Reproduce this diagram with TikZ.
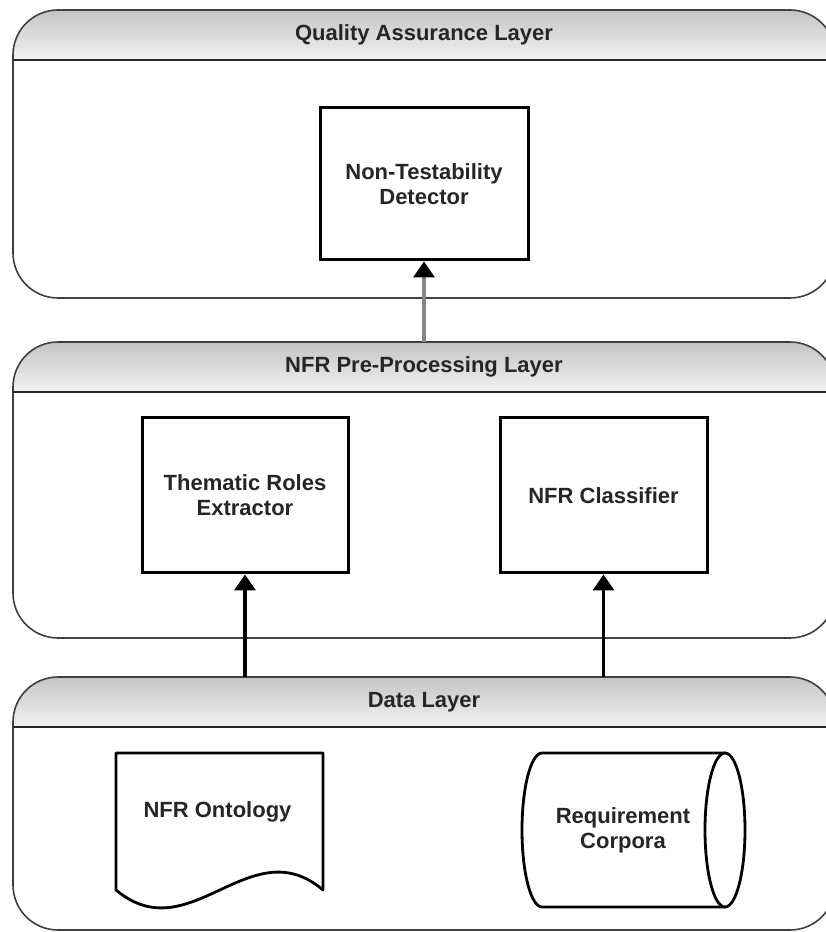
\documentclass[tikz,border=0pt]{standalone}
\usepackage{fontspec}
\setmainfont{Liberation Sans}
\usetikzlibrary{arrows.meta,backgrounds}
\newcommand\hdrfill[1]{%
  \foreach \i [evaluate=\i as \c using 46-0.72*\i] in {0,...,49} {
    \fill[gray!\c] ([yshift={-1pt*\i}]#1.north west) rectangle ([yshift={-1pt*\i-1.6pt}]#1.north east);
  }
  \fill[white] (#1.north west) -- ++(45pt,0) arc[start angle=90,end angle=180,radius=45pt] -- cycle;
  \fill[white] (#1.north east) -- ++(-45pt,0) arc[start angle=90,end angle=0,radius=45pt] -- cycle;
}
\tikzset{
  layer/.style={draw=black!75, line width=1.6pt, rounded corners=45pt, inner sep=0pt, outer sep=0pt},
  hline/.style={line width=2pt, draw=black!85},
  hdr/.style={font=\fontsize{22}{25}\selectfont\bfseries, text=black!85, inner sep=0pt},
  box/.style={draw=black, line width=3pt, align=center, font=\fontsize{22}{25}\selectfont\bfseries, text=black!85},
  lbl/.style={align=center, font=\fontsize{22}{25}\selectfont\bfseries, text=black!85, inner sep=0pt},
  shp/.style={draw=black, line width=2.8pt, line join=round},
  barrow/.style={draw=black, line width=3.6pt, -{Triangle[width=21pt,length=16pt]}},
  garrow/.style={draw=gray!95, line width=3.6pt, -{Triangle[width=21pt,length=16pt,color=black]}}
}
\begin{document}
\begin{tikzpicture}[x=1pt,y=1pt]
\useasboundingbox (0,0) rectangle (825,932);
% layers
\node[layer, minimum width=822pt, minimum height=288pt] (L1) at (424,778) {};
\node[layer, minimum width=822pt, minimum height=296pt] (L2) at (424,442) {};
\node[layer, minimum width=822pt, minimum height=253pt] (L3) at (424,128.5) {};
\begin{scope}[on background layer]
  \fill[white] (0,0) rectangle (825,932);
  \hdrfill{L1}
  \hdrfill{L2}
  \hdrfill{L3}
\end{scope}
\draw[hline] ([yshift=-50pt]L1.north west) -- ([yshift=-50pt]L1.north east);
\draw[hline] ([yshift=-50pt]L2.north west) -- ([yshift=-50pt]L2.north east);
\draw[hline] ([yshift=-50pt]L3.north west) -- ([yshift=-50pt]L3.north east);
\node[hdr] (L1t) at ([yshift=-25pt]L1.north) {Quality Assurance Layer};
\node[hdr] (L2t) at ([yshift=-25pt]L2.north) {NFR Pre-Processing Layer};
\node[hdr] (L3t) at ([yshift=-25pt]L3.north) {Data Layer};
% boxes
\node[box, minimum width=208pt, minimum height=152pt] (det) at (424,748) {Non-Testability\\Detector};
\node[box, minimum width=206pt, minimum height=155pt] (tre) at (245,436.5) {Thematic Roles\\Extractor};
\node[box, minimum width=207pt, minimum height=155pt] (nfrc) at (603.5,436.5) {NFR Classifier};
% document shape
\draw[shp] (116,179) -- (323,179) -- (323,42) .. controls (250,104) and (190,-20) .. (116,42) -- cycle;
\node[lbl] (onto) at (217.5,120) {NFR Ontology};
% cylinder
\draw[shp] (725,179) -- (542,179) arc[start angle=90, end angle=270, x radius=20, y radius=77] -- (725,25);
\draw[shp] (725,102) ellipse [x radius=20, y radius=77];
\node[lbl] (corp) at (623,102) {Requirement\\Corpora};
% arrows
\draw[garrow] (L2.north -| det.south) -- (det.south);
\draw[barrow] (L3.north -| tre.south) -- (tre.south);
\draw[barrow] (L3.north -| nfrc.south) -- (nfrc.south);
\end{tikzpicture}
\end{document}
